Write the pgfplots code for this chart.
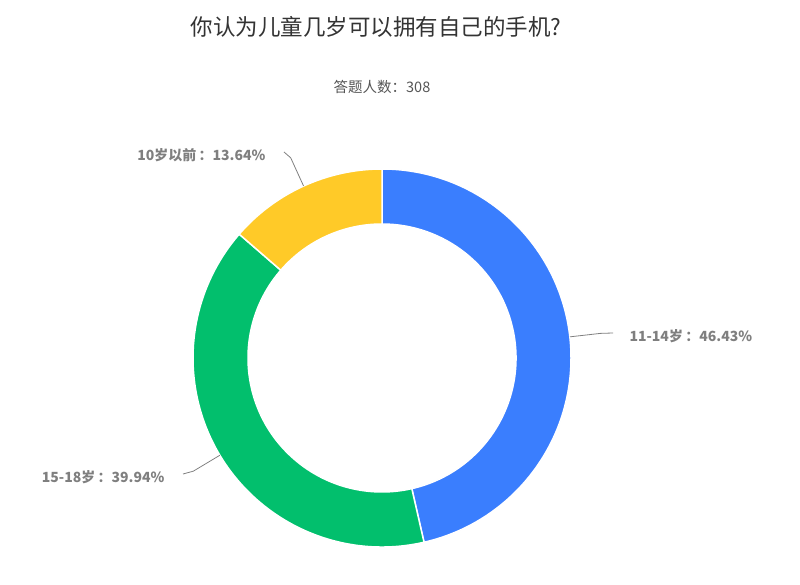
\documentclass[border=0pt]{standalone}
\usepackage{pgfplots}
\pgfplotsset{compat=1.18}
\usepackage{fontspec}
\setmainfont{Noto Sans CJK SC}
\definecolor{cBlue}{HTML}{3A7EFE}
\definecolor{cGreen}{HTML}{02BF6D}
\definecolor{cYellow}{HTML}{FFCA28}
\definecolor{labelgray}{HTML}{7F7F7F}
\definecolor{titlegray}{HTML}{333333}
\definecolor{subgray}{HTML}{555555}

% shares (percent), clockwise from the top
\def\vA{46.43} % 11-14岁
\def\vB{39.94} % 15-18岁
\def\vC{13.64} % 10岁以前
\def\cx{382}\def\cy{227}\def\ro{189}\def\ri{134}
\pgfmathsetmacro\aA{90-\vA*3.6}
\pgfmathsetmacro\aB{\aA-\vB*3.6}
\pgfmathsetmacro\aC{\aB-\vC*3.6}
\pgfmathsetmacro\mA{(90+\aA)/2}
\pgfmathsetmacro\mB{(\aA+\aB)/2}
\pgfmathsetmacro\mC{(\aB+\aC)/2}

\newcommand\sector[3]{%
  \fill[#1,draw=white,line width=1.5pt]
    (axis cs:{\cx+\ro*cos(#2)},{\cy+\ro*sin(#2)})
    arc[start angle=#2,end angle=#3,radius=\ro pt]
    -- (axis cs:{\cx+\ri*cos(#3)},{\cy+\ri*sin(#3)})
    arc[start angle=#3,end angle=#2,radius=\ri pt] -- cycle;}

\newcommand\leader[3]{%
  \draw[labelgray,line width=0.8pt]
    (axis cs:{\cx+\ro*cos(#1)},{\cy+\ro*sin(#1)})
    -- (axis cs:{\cx+220*cos(#1)},{\cy+220*sin(#1)})
    -- (axis cs:#2,#3);}

\begin{document}
\begin{tikzpicture}
\begin{axis}[at={(0,0)},anchor=south west,x=1pt,y=1pt,
  xmin=0,xmax=800,ymin=0,ymax=585,
  hide axis,clip=false,scale only axis]

\sector{cBlue}{90}{\aA}
\sector{cGreen}{\aA}{\aB}
\sector{cYellow}{\aB}{\aC}

\leader{\mA}{613}{252}
\leader{\mB}{183}{111}
\leader{\mC}{284}{433}

\node[anchor=west,font=\bfseries\fontsize{14}{16}\selectfont,text=labelgray]
  at (axis cs:626,249) {11-14岁\,：46.43\%};
\node[anchor=east,font=\bfseries\fontsize{14}{16}\selectfont,text=labelgray]
  at (axis cs:168,108) {15-18岁\,：39.94\%};
\node[anchor=east,font=\bfseries\fontsize{14}{16}\selectfont,text=labelgray]
  at (axis cs:269,430) {10岁以前\,：13.64\%};

\node[font=\fontsize{22.5}{25}\selectfont,text=titlegray]
  at (axis cs:376,558) {你认为儿童几岁可以拥有自己的手机?};
\node[font=\fontsize{14.5}{16}\selectfont,text=subgray]
  at (axis cs:382,498) {答题人数：308};
\end{axis}
\pgfresetboundingbox
\path (0,0) rectangle (800pt,585pt);
\end{tikzpicture}
\end{document}
